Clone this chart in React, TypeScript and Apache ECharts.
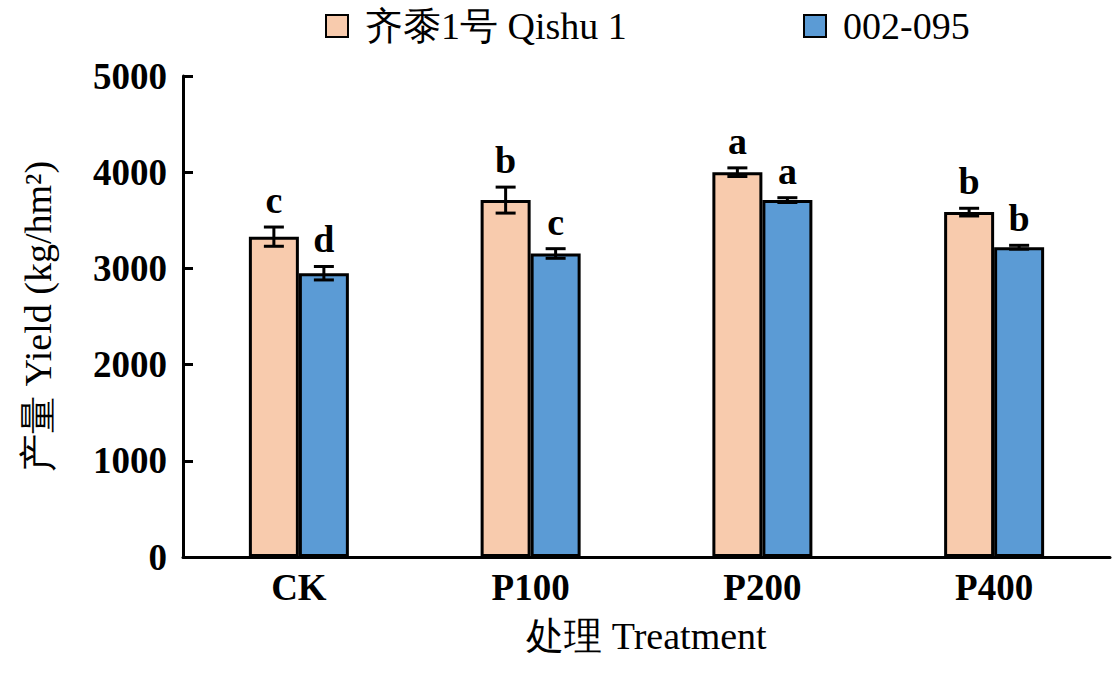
import React, { useEffect, useRef } from "react";
import * as echarts from "echarts";

const categories = ["CK", "P100", "P200", "P400"];
const seriesNames = ["齐黍1号 Qishu 1", "002-095"];
const qishuValues = [3330, 3710, 4000, 3585];
const qishuErrors = [100, 135, 45, 40];
const qishuLetters = ["c", "b", "a", "b"];
const lineValues = [2950, 3155, 3710, 3220];
const lineErrors = [70, 50, 25, 20];
const lineLetters = ["d", "c", "a", "b"];
const yTicks = { min: 0, max: 5000, interval: 1000 };

const FONT = "Liberation Serif";
const COLORS = ["#F8CBAD", "#5B9BD5"];
const BAR_W = 50;

function errorSeries(values: number[], errors: number[], letters: string[], offset: number) {
  const data = values.map((v, i) => [i, v, errors[i], letters[i]]);
  return {
    type: "custom",
    silent: true,
    clip: false,
    z: 10,
    encode: { x: 0, y: 1 },
    data,
    renderItem: (params: any, api: any) => {
      const idx = api.value(0);
      const val = api.value(1);
      const err = api.value(2);
      const letter = data[params.dataIndex][3] as string;
      const x = api.coord([idx, val])[0] + offset;
      const yTop = api.coord([idx, val + err])[1];
      const yBot = api.coord([idx, val - err])[1];
      const cap = 10;
      const ls = { stroke: "#000", lineWidth: 3 };
      return {
        type: "group",
        children: [
          { type: "line", shape: { x1: x, y1: yTop, x2: x, y2: yBot }, style: ls },
          { type: "line", shape: { x1: x - cap, y1: yTop, x2: x + cap, y2: yTop }, style: ls },
          { type: "line", shape: { x1: x - cap, y1: yBot, x2: x + cap, y2: yBot }, style: ls },
          {
            type: "text",
            style: {
              text: letter,
              x,
              y: yTop - 8,
              align: "center",
              verticalAlign: "bottom",
              fontFamily: FONT,
              fontWeight: "bold",
              fontSize: 38,
              fill: "#000",
            },
          },
        ],
      };
    },
  };
}

export default function App() {
  const ref = useRef<HTMLDivElement>(null);
  useEffect(() => {
    if (!ref.current) return;
    const chart = echarts.init(ref.current, undefined, { renderer: "svg" });
    const legendText = { fontFamily: FONT, fontSize: 38, color: "#000", padding: [0, 0, 0, 12] };
    const legendBase = {
      top: 2,
      itemWidth: 22,
      itemHeight: 22,
      itemGap: 20,
      textStyle: legendText,
    };
    chart.setOption({
      animation: false,
      backgroundColor: "#fff",
      legend: [
        {
          ...legendBase,
          left: 320,
          data: [
            {
              name: seriesNames[0],
              icon: "rect",
              itemStyle: { color: COLORS[0], borderColor: "#000", borderWidth: 2 },
            },
          ],
        },
        {
          ...legendBase,
          left: 798,
          data: [
            {
              name: seriesNames[1],
              icon: "rect",
              itemStyle: { color: COLORS[1], borderColor: "#000", borderWidth: 2 },
            },
          ],
        },
      ],
      grid: { left: 183, right: 10, top: 76, bottom: 116, containLabel: false },
      xAxis: {
        type: "category",
        data: categories,
        name: "处理 Treatment",
        nameLocation: "middle",
        nameGap: 60,
        nameTextStyle: { fontFamily: FONT, fontSize: 38, color: "#000" },
        axisLine: { lineStyle: { color: "#000", width: 3 } },
        axisTick: { inside: true, length: 10, lineStyle: { color: "#000", width: 3 } },
        axisLabel: { fontFamily: FONT, fontSize: 37, fontWeight: "bold", color: "#000", margin: 12 },
        splitLine: { show: false },
      },
      yAxis: {
        type: "value",
        min: yTicks.min,
        max: yTicks.max,
        interval: yTicks.interval,
        name: "产量 Yield (kg/hm²)",
        nameLocation: "middle",
        nameRotate: 90,
        nameGap: 126,
        nameTextStyle: { fontFamily: FONT, fontSize: 38, color: "#000" },
        axisLine: { show: true, lineStyle: { color: "#000", width: 3 } },
        axisTick: { show: true, inside: true, length: 10, lineStyle: { color: "#000", width: 3 } },
        axisLabel: {
          fontFamily: FONT,
          fontSize: 37,
          fontWeight: "bold",
          color: "#000",
          margin: 16,
          formatter: (v: number) => String(v),
        },
        splitLine: { show: false },
      },
      series: [
        {
          name: seriesNames[0],
          type: "bar",
          data: qishuValues,
          barWidth: BAR_W,
          barGap: "0%",
          itemStyle: { color: COLORS[0], borderColor: "#000", borderWidth: 3 },
        },
        {
          name: seriesNames[1],
          type: "bar",
          data: lineValues,
          barWidth: BAR_W,
          barGap: "0%",
          itemStyle: { color: COLORS[1], borderColor: "#000", borderWidth: 3 },
        },
        errorSeries(qishuValues, qishuErrors, qishuLetters, -BAR_W / 2),
        errorSeries(lineValues, lineErrors, lineLetters, BAR_W / 2),
      ],
    });
    return () => chart.dispose();
  }, []);
  return (
    <div
      ref={ref}
      style={{ position: "fixed", left: 0, top: 0, width: 1120, height: 673, background: "#fff" }}
    />
  );
}
